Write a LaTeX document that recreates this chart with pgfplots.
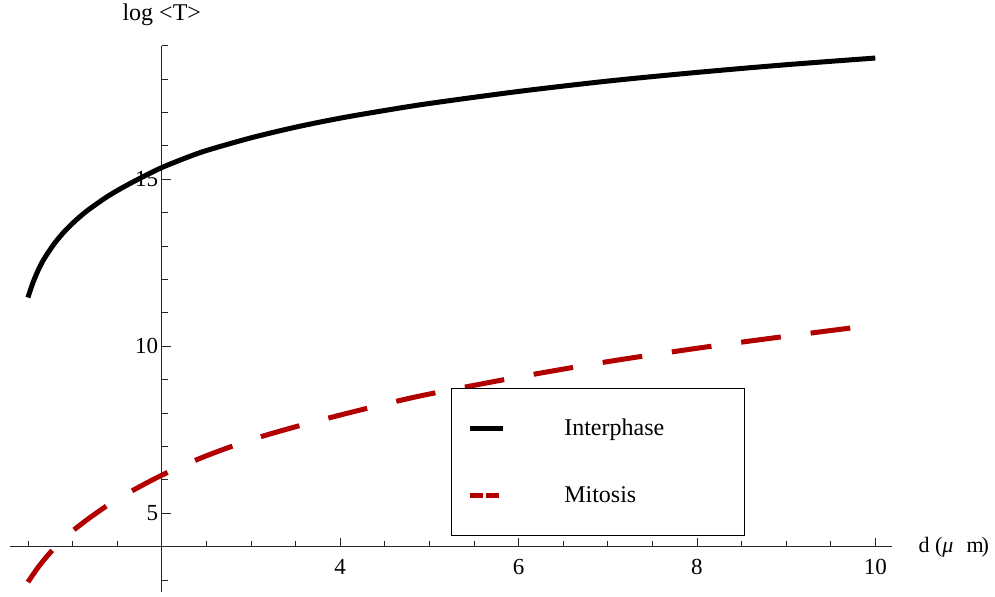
\documentclass[border=0pt]{standalone}
\usepackage{fontspec}
\setmainfont{Liberation Serif}
\usepackage{pgfplots}
\pgfplotsset{compat=1.18}
\usepackage{pgfplotstable}
\definecolor{mred}{rgb}{0.70,0,0}

\pgfplotsset{
  ipleg/.style={legend image code/.code={\draw[##1] (0bp,0bp) -- (33bp,0bp);}},
  mileg/.style={legend image code/.code={\draw[##1, dash pattern=on 12.7bp off 3.3bp] (0bp,0bp) -- (29bp,0bp);}},
}

\pgfplotstableread{
d T
0.5 11.46
0.55 11.86
0.6 12.19
0.65 12.47
0.7 12.70
0.8 13.09
0.9 13.41
1.0 13.68
1.1 13.92
1.2 14.13
1.4 14.50
1.6 14.81
1.8 15.09
2.0 15.35
2.25 15.62
2.5 15.86
3.0 16.24
3.5 16.56
4.0 16.83
4.5 17.06
5.0 17.27
6.0 17.63
7.0 17.94
8.0 18.20
9.0 18.43
10.0 18.63
}\interphase

\pgfplotstableread{
d T
0.5 2.94
0.6 3.33
0.7 3.67
0.8 3.97
0.9 4.23
1.0 4.47
1.2 4.88
1.5 5.42
2.0 6.14
2.5 6.72
3.0 7.20
3.5 7.59
4.0 7.94
4.5 8.27
5.0 8.57
6.0 9.08
7.0 9.54
8.0 9.94
9.0 10.30
10.0 10.64
}\mitosis

\begin{document}
\begin{tikzpicture}
\begin{axis}[
  x=89.2bp, y=33.4bp,
  xmin=-1.70, xmax=8.19, ymin=-1.356, ymax=15.0,
  axis lines=middle,
  axis line style={-, line width=0.8bp, black!85},
  clip=false,
  xtick={2,4,6,8}, xticklabels={\textrm{4},\textrm{6},\textrm{8},\textrm{10}},
  ytick={1,6,11}, yticklabels={\textrm{5},\textrm{10},\textrm{15}},
  minor xtick={-1.5,-1,-0.5,0.5,1,1.5,2.5,3,3.5,4.5,5,5.5,6.5,7,7.5},
  minor ytick={-1,2,3,4,5,7,8,9,10,12,13,14,15},
  tick align=inside,
  major tick length=9bp, minor tick length=6bp,
  tick style={line width=0.8bp, black!85},
  /pgf/number format/assume math mode=true,
  every tick label/.append style={font=\fontsize{23bp}{27bp}\selectfont},
  xticklabel style={yshift=-9bp},
  legend cell align=left,
  legend style={
    at={(0.4997,0.3729)}, anchor=north west,
    draw=black, line width=0.8bp,
    inner xsep=16bp, inner ysep=6bp,
    font=\fontsize{24bp}{28bp}\selectfont,
    nodes={inner sep=0pt, text height=40.75bp, text depth=26.65bp},
    /tikz/every odd column/.append style={column sep=59bp},
    row sep=0pt,
  },
]
\addplot[line width=5bp, black, smooth, line join=round, ipleg]
  table[x expr=\thisrow{d}-2, y expr=\thisrow{T}-4] {\interphase};
\addlegendentry{\makebox[164.5bp][l]{Interphase}}
\addplot[line width=5bp, mred, smooth, line join=round, dash pattern=on 40bp off 30bp, mileg]
  table[x expr=\thisrow{d}-2, y expr=\thisrow{T}-4] {\mitosis};
\addlegendentry{\makebox[164.5bp][l]{Mitosis}}
\node[anchor=base, font=\fontsize{24bp}{28bp}\selectfont] at (axis cs:0,15.74) {log <T>};
\node[anchor=base west, font=\fontsize{22bp}{26bp}\selectfont] at (axis cs:8.445,-0.189) {d (\textit{μ}\hspace{0.6em}m\kern-0.1em)};
\coordinate (bl) at (axis cs:-1.8134,-1.5060);
\coordinate (tr) at (axis cs:9.3419,16.3683);
\end{axis}
\pgfresetboundingbox
\path (bl) rectangle (tr);
\end{tikzpicture}
\end{document}
